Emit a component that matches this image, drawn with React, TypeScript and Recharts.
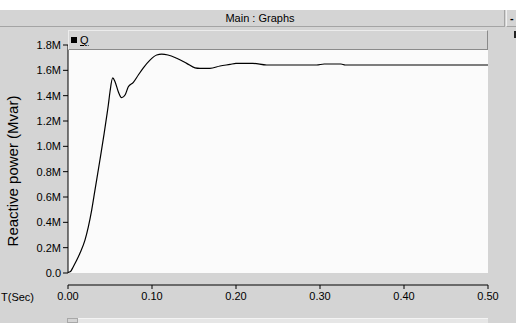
import React from 'react';
import { LineChart, Line, XAxis, YAxis, ReferenceArea, ReferenceLine, Legend } from 'recharts';

const timeSec = [
  0, 0.003, 0.0063, 0.0103, 0.0143, 0.0202, 0.0242, 0.0282, 0.032, 0.038, 0.043, 0.046, 0.048, 0.05,
  0.0532, 0.056, 0.0599, 0.0639, 0.0679, 0.0718, 0.0778, 0.0837, 0.0897, 0.0976, 0.1056, 0.1115,
  0.119, 0.1294, 0.1413, 0.1512, 0.157, 0.169, 0.181, 0.193, 0.2, 0.22, 0.2365, 0.296, 0.305, 0.325,
  0.33, 0.5,
];
const reactivePowerMvar = [
  0.005, 0.012, 0.05, 0.1, 0.158, 0.26, 0.365, 0.497, 0.65, 0.892, 1.1, 1.234, 1.326, 1.431,
  1.54, 1.51, 1.431, 1.384, 1.405, 1.47, 1.505, 1.563, 1.62, 1.681, 1.721, 1.728,
  1.721, 1.695, 1.655, 1.62, 1.616, 1.616, 1.634, 1.647, 1.655, 1.655, 1.642, 1.642, 1.65, 1.65,
  1.642, 1.642,
];
const yTicks = [0, 0.2, 0.4, 0.6, 0.8, 1.0, 1.2, 1.4, 1.6, 1.8];
const xTicks = [0, 0.1, 0.2, 0.3, 0.4, 0.5];
const seriesName = 'Q';
const titleText = 'Main : Graphs';
const yLabel = 'Reactive power (Mvar)';
const xLabel = 'T(Sec)';

const data = timeSec.map((t, i) => ({ t, q: reactivePowerMvar[i] }));

const FONT = '"Liberation Sans", Arial, sans-serif';
const GRAY = '#d4d4d4';

const LegendBox = () => (
  <div
    style={{
      width: 420,
      height: 20,
      boxSizing: 'border-box',
      background: GRAY,
      borderTop: '1px solid #ececec',
      borderLeft: '1px solid #ececec',
      borderRight: '1px solid #8a8a8a',
      borderBottom: '1px solid #8a8a8a',
      fontFamily: FONT,
      fontSize: 11,
      color: '#000',
      display: 'flex',
      alignItems: 'flex-start',
      paddingLeft: 2,
      paddingTop: 3,
    }}
  >
    <span style={{ display: 'inline-block', width: 6, height: 6, background: '#000', marginTop: 3, marginRight: 3 }} />
    <span style={{ textDecoration: 'underline', lineHeight: '12px' }}>{seriesName}</span>
  </div>
);

export default function App() {
  return (
    <div style={{ position: 'fixed', left: 0, top: 0, width: 516, height: 323, background: GRAY, overflow: 'hidden' }}>
      <div style={{ position: 'absolute', left: 0, top: 0, width: 516, height: 10, background: '#ffffff' }} />
      <div
        style={{
          position: 'absolute',
          left: 0,
          top: 10,
          width: 505,
          height: 17,
          boxSizing: 'border-box',
          background: GRAY,
          borderBottom: '1px solid #a4a4a4',
          borderRight: '1px solid #a4a4a4',
          fontFamily: FONT,
          fontSize: 11,
          lineHeight: '16px',
          textAlign: 'center',
          color: '#000',
          paddingLeft: 16,
        }}
      >
        {titleText}
      </div>
      <div
        style={{
          position: 'absolute',
          left: 506,
          top: 10,
          width: 12,
          height: 17,
          boxSizing: 'border-box',
          background: GRAY,
          borderLeft: '1px solid #f0f0f0',
          borderBottom: '1px solid #a4a4a4',
          fontFamily: FONT,
          fontSize: 11,
          lineHeight: '16px',
          paddingLeft: 3,
          color: '#000',
          fontWeight: 'bold',
        }}
      >
        -
      </div>
      <div style={{ position: 'absolute', left: 514, top: 31, width: 2, height: 7, background: '#222' }} />
      <div
        style={{
          position: 'absolute',
          left: 67,
          top: 318,
          width: 421,
          height: 5,
          boxSizing: 'border-box',
          background: '#e6e6e6',
          borderTop: '1px solid #f4f4f4',
        }}
      />
      <div
        style={{
          position: 'absolute',
          left: 67,
          top: 318,
          width: 11,
          height: 5,
          boxSizing: 'border-box',
          background: GRAY,
          border: '1px solid #a8a8a8',
        }}
      />
      <div style={{ position: 'absolute', left: 0, top: 0 }}>
        <LineChart width={516} height={323} data={data} margin={{ top: 45, right: 28, bottom: 0, left: 8 }}>
          <ReferenceArea
            x1={0}
            x2={0.5}
            y1={0}
            y2={1.8}
            fill="#fbfbfb"
            fillOpacity={1}
            stroke="none"
            ifOverflow="visible"
          />
          <XAxis
            dataKey="t"
            type="number"
            domain={[0, 0.5]}
            ticks={xTicks}
            allowDataOverflow
            height={38}
            tickFormatter={(v: number) => v.toFixed(2)}
            tick={{ fontSize: 11, fill: '#000', fontFamily: FONT }}
            tickLine={{ stroke: '#000' }}
            axisLine={{ stroke: '#000' }}
            tickSize={4}
            tickMargin={3}
            label={() => (
              <text x={1} y={297} fontSize={11} fontFamily={FONT} fill="#000" textAnchor="start" dominantBaseline="central">
                {xLabel}
              </text>
            )}
          />
          <YAxis
            type="number"
            domain={[-0.0947, 1.8]}
            ticks={yTicks}
            allowDataOverflow
            width={60}
            interval={0}
            axisLine={false}
            tickLine={{ stroke: '#000' }}
            tickSize={5}
            tickMargin={2}
            tickFormatter={(v: number) => (v === 0 ? '0.0' : v.toFixed(1) + 'M')}
            tick={{ fontSize: 11, fill: '#000', fontFamily: FONT }}
            label={() => (
              <text
                x={18}
                y={171}
                transform="rotate(-90 18 171)"
                fontSize={15}
                fontFamily={FONT}
                fill="#000"
                textAnchor="middle"
              >
                {yLabel}
              </text>
            )}
          />
          <ReferenceLine
            segment={[{ x: 0, y: 0 }, { x: 0, y: 1.8 }]}
            stroke="#000"
            strokeWidth={1}
            ifOverflow="visible"
          />
          <Line
            dataKey="q"
            name={seriesName}
            type="monotone"
            stroke="#000"
            strokeWidth={1.2}
            dot={false}
            isAnimationActive={false}
          />
          <Legend
            verticalAlign="middle"
            align="center"
            layout="horizontal"
            content={() => <LegendBox />}
            wrapperStyle={{ position: 'absolute', top: 30, left: 68, width: 420, height: 20, margin: 0, padding: 0 }}
          />
        </LineChart>
      </div>
    </div>
  );
}
